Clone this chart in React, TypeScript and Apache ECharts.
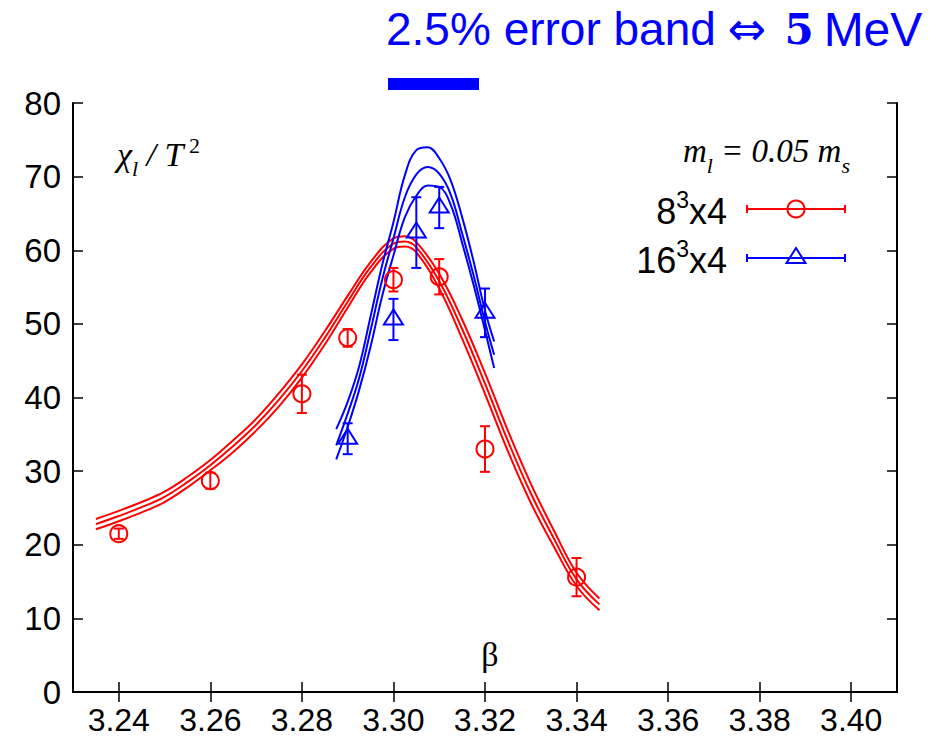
import React, { useEffect, useRef } from "react";
import * as echarts from "echarts";

// ---------- tick labels ----------
const xTickValues = [3.24, 3.26, 3.28, 3.3, 3.32, 3.34, 3.36, 3.38, 3.4];

// ---------- data points: 8^3x4 ----------
const beta8 = [3.24, 3.26, 3.28, 3.29, 3.3, 3.31, 3.32, 3.34];
const chi8 = [21.5, 28.7, 40.5, 48.1, 56.0, 56.4, 33.0, 15.6];
const err8 = [0.7, 1.1, 2.6, 1.2, 1.6, 2.4, 3.1, 2.6];

// ---------- data points: 16^3x4 ----------
const beta16 = [3.29, 3.3, 3.305, 3.31, 3.32];
const chi16 = [34.4, 50.6, 62.4, 65.8, 51.5];
const err16 = [2.1, 2.8, 4.8, 2.8, 3.3];

// ---------- fit curves: 8^3x4 ----------
const fitBeta8 = [3.235, 3.24, 3.245, 3.25, 3.255, 3.26, 3.265, 3.27, 3.275, 3.28, 3.285, 3.29, 3.295, 3.3, 3.3025, 3.305, 3.31, 3.315, 3.32, 3.325, 3.33, 3.335, 3.34, 3.345];
const fitUpper8 = [23.5, 24.6, 25.8, 27.2, 29.2, 31.5, 34.2, 37.1, 40.6, 44.5, 49.0, 53.8, 58.4, 61.6, 61.9, 61.1, 56.8, 50.6, 43.3, 35.5, 28.3, 22.0, 16.2, 12.7];
const fitCentral8 = [22.8, 23.9, 25.1, 26.5, 28.5, 30.8, 33.4, 36.3, 39.7, 43.6, 48.1, 53.0, 57.7, 60.9, 61.2, 60.4, 55.8, 49.3, 41.9, 34.1, 27.0, 20.9, 15.3, 11.9];
const fitLower8 = [22.1, 23.2, 24.4, 25.8, 27.8, 30.1, 32.6, 35.5, 38.8, 42.7, 47.2, 52.2, 57.0, 60.2, 60.5, 59.7, 54.8, 48.0, 40.5, 32.7, 25.7, 19.8, 14.4, 11.1];

// ---------- fit curves: 16^3x4 ----------
const fitBeta16 = [3.2875, 3.29, 3.2925, 3.295, 3.2975, 3.3, 3.3025, 3.305, 3.3075, 3.31, 3.3125, 3.315, 3.3175, 3.32, 3.322];
const fitUpper16 = [35.7, 39.4, 44.2, 51.0, 57.9, 63.8, 70.2, 73.6, 74.0, 72.5, 69.5, 64.5, 58.5, 51.8, 47.6];
const fitCentral16 = [33.5, 37.8, 42.6, 49.1, 55.9, 61.6, 67.2, 70.3, 71.3, 70.4, 67.6, 62.3, 56.6, 50.3, 45.8];
const fitLower16 = [31.6, 36.0, 41.0, 46.9, 53.7, 59.3, 64.5, 67.4, 68.8, 68.6, 66.2, 61.0, 55.3, 49.1, 44.0];

const RED = "#ff0000";
const BLUE = "#0000ff";
const SANS = "'Liberation Sans', Arial, Helvetica, sans-serif";
const SERIF = "'Liberation Serif', 'Times New Roman', serif";

function markerShape(kind: string, cx: number, cy: number, color: string) {
  const style = { stroke: color, lineWidth: 2, fill: "rgba(0,0,0,0)" };
  if (kind === "circle") {
    return { type: "circle", shape: { cx, cy, r: 8.5 }, style };
  }
  return {
    type: "polygon",
    shape: { points: [[cx, cy - 10], [cx - 9.5, cy + 5], [cx + 9.5, cy + 5]] },
    style,
  };
}

function errorSeries(name: string, betas: number[], vals: number[], errs: number[], color: string, kind: string) {
  return {
    type: "custom",
    name,
    xAxisIndex: 0,
    yAxisIndex: 0,
    z: 5,
    data: betas.map((b, i) => [b, vals[i], errs[i]]),
    renderItem: (params: any, api: any) => {
      const x = api.value(0);
      const y = api.value(1);
      const e = api.value(2);
      const p = api.coord([x, y]);
      const hi = api.coord([x, y + e]);
      const lo = api.coord([x, y - e]);
      const cap = 5;
      const ls = { stroke: color, lineWidth: 2 };
      return {
        type: "group",
        children: [
          { type: "line", shape: { x1: p[0], y1: hi[1], x2: p[0], y2: lo[1] }, style: ls },
          { type: "line", shape: { x1: p[0] - cap, y1: hi[1], x2: p[0] + cap, y2: hi[1] }, style: ls },
          { type: "line", shape: { x1: p[0] - cap, y1: lo[1], x2: p[0] + cap, y2: lo[1] }, style: ls },
          markerShape(kind, p[0], p[1], color),
        ],
      };
    },
  };
}

function fitSeries(betas: number[], vals: number[], color: string) {
  return {
    type: "line",
    xAxisIndex: 0,
    yAxisIndex: 0,
    data: betas.map((b, i) => [b, vals[i]]),
    showSymbol: false,
    smooth: 0.4,
    lineStyle: { color, width: 2 },
    z: 3,
    silent: true,
  };
}

function legendEntry(y: number, base: string, color: string, kind: string) {
  const ls = { stroke: color, lineWidth: 2 };
  return [
    {
      type: "text",
      x: 727,
      y: y + 2.4,
      style: {
        text: `{a|${base}}{s|3}{a|x4}`,
        align: "right",
        verticalAlign: "middle",
        rich: {
          a: { fontSize: 36, fontFamily: SANS, fill: "#000", lineHeight: 46 },
          s: { fontSize: 23, fontFamily: SANS, fill: "#000", lineHeight: 23, verticalAlign: "top" },
        },
      },
    },
    { type: "line", shape: { x1: 747, y1: y, x2: 845, y2: y }, style: ls },
    { type: "line", shape: { x1: 747, y1: y - 4, x2: 747, y2: y + 4 }, style: ls },
    { type: "line", shape: { x1: 845, y1: y - 4, x2: 845, y2: y + 4 }, style: ls },
    markerShape(kind, 796, y, color),
  ];
}

export default function App() {
  const ref = useRef<HTMLDivElement>(null);

  useEffect(() => {
    document.body.style.margin = "0";
    if (!ref.current) return;
    const chart = echarts.init(ref.current, undefined, { renderer: "svg" });

    const axisLine = { show: true, lineStyle: { color: "#000", width: 2 } };
    const tickStyle = { color: "#000", width: 1.5 };

    const option: any = {
      animation: false,
      backgroundColor: "#ffffff",
      grid: { left: 73, right: 48, top: 103, bottom: 49 },
      xAxis: [
        {
          type: "value",
          position: "bottom",
          min: 3.23,
          max: 3.41,
          axisLine,
          axisTick: { show: true, inside: true, length: 10, customValues: xTickValues, lineStyle: tickStyle },
          axisLabel: {
            customValues: xTickValues,
            formatter: (v: number) => v.toFixed(2),
            fontSize: 32,
            fontFamily: SANS,
            color: "#000",
            margin: 12,
          },
          splitLine: { show: false },
        },
        {
          type: "value",
          position: "top",
          min: 3.23,
          max: 3.41,
          axisLine,
          axisTick: { show: true, inside: true, length: 10, customValues: xTickValues, lineStyle: tickStyle },
          axisLabel: { show: false },
          splitLine: { show: false },
        },
      ],
      yAxis: [
        {
          type: "value",
          position: "left",
          min: 0,
          max: 80,
          interval: 10,
          axisLine,
          axisTick: { show: true, inside: true, length: 10, lineStyle: tickStyle },
          axisLabel: { fontSize: 33, fontFamily: SANS, color: "#000", margin: 12 },
          splitLine: { show: false },
        },
        {
          type: "value",
          position: "right",
          min: 0,
          max: 80,
          interval: 10,
          axisLine,
          axisTick: { show: true, inside: true, length: 10, lineStyle: tickStyle },
          axisLabel: { show: false },
          splitLine: { show: false },
        },
      ],
      series: [
        fitSeries(fitBeta8, fitUpper8, RED),
        fitSeries(fitBeta8, fitCentral8, RED),
        fitSeries(fitBeta8, fitLower8, RED),
        fitSeries(fitBeta16, fitUpper16, BLUE),
        fitSeries(fitBeta16, fitCentral16, BLUE),
        fitSeries(fitBeta16, fitLower16, BLUE),
        errorSeries("8³x4", beta8, chi8, err8, RED, "circle"),
        errorSeries("16³x4", beta16, chi16, err16, BLUE, "triangle"),
      ],
      graphic: [
        {
          type: "text",
          x: 386,
          y: 29,
          style: {
            text: "{a|2.5% error band}{b|⇔}{c|5}{m|MeV}",
            verticalAlign: "middle",
            align: "left",
            rich: {
              a: { fontSize: 46, fontFamily: SANS, fill: BLUE, lineHeight: 52 },
              b: { fontSize: 46, fontFamily: "'DejaVu Sans', sans-serif", fill: BLUE, lineHeight: 52, padding: [0, 0, 0, 12] },
              c: { fontSize: 42, fontFamily: "'DejaVu Serif', serif", fontWeight: "bold", fill: BLUE, lineHeight: 52, padding: [0, 0, 0, 18] },
              m: { fontSize: 48, fontFamily: SANS, fill: BLUE, lineHeight: 52, padding: [0, 0, 0, 10] },
            },
          },
        },
        { type: "rect", shape: { x: 388, y: 78, width: 91, height: 12 }, style: { fill: BLUE } },
        {
          type: "text",
          x: 117,
          y: 154,
          style: {
            text: "{i|χ}{s|l}{i| / T}{p| 2}",
            verticalAlign: "middle",
            align: "left",
            rich: {
              i: { fontSize: 34, fontFamily: SERIF, fontStyle: "italic", fill: "#000", lineHeight: 50 },
              s: { fontSize: 22, fontFamily: SERIF, fontStyle: "italic", fill: "#000", lineHeight: 22, verticalAlign: "bottom" },
              p: { fontSize: 22, fontFamily: SERIF, fill: "#000", lineHeight: 22, verticalAlign: "top", padding: [5, 0, 0, 0] },
            },
          },
        },
        {
          type: "text",
          x: 850,
          y: 151,
          style: {
            text: "{i|m}{s|l}{i| = 0.05 m}{s|s}",
            verticalAlign: "middle",
            align: "right",
            rich: {
              i: { fontSize: 33, fontFamily: SERIF, fontStyle: "italic", fill: "#000", lineHeight: 50 },
              s: { fontSize: 22, fontFamily: SERIF, fontStyle: "italic", fill: "#000", lineHeight: 22, verticalAlign: "bottom" },
            },
          },
        },
        ...legendEntry(209, "8", RED, "circle"),
        ...legendEntry(258, "16", BLUE, "triangle"),
        {
          type: "text",
          x: 490,
          y: 654,
          style: { text: "β", font: `34px ${SERIF}`, fill: "#000", align: "center", verticalAlign: "middle" },
        },
      ],
    };

    chart.setOption(option);
    return () => chart.dispose();
  }, []);

  return <div ref={ref} style={{ width: 945, height: 741 }} />;
}
